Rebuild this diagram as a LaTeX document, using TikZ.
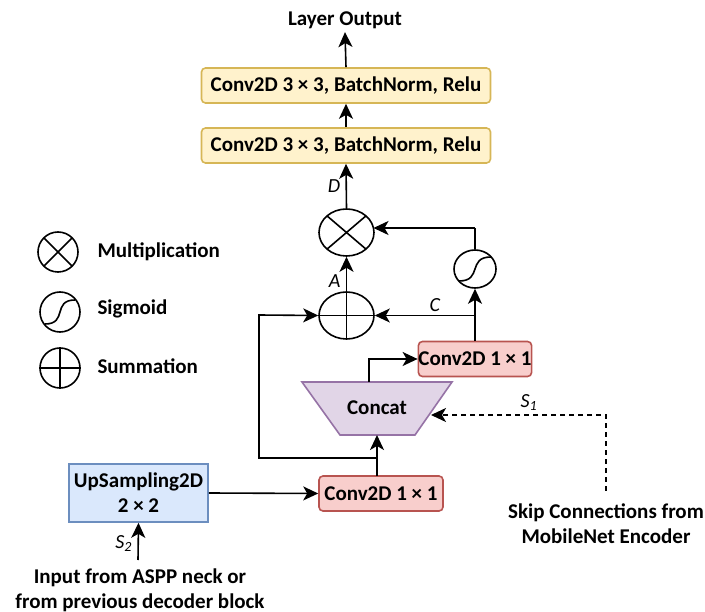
\documentclass[tikz,border=0pt]{standalone}
\usepackage{fontspec}
\setmainfont{Carlito}
\usetikzlibrary{arrows.meta,shapes.geometric,calc}
\definecolor{yfill}{HTML}{FFF2CC}\definecolor{ydraw}{HTML}{D6B656}
\definecolor{rfill}{HTML}{F8CECC}\definecolor{rdraw}{HTML}{B85450}
\definecolor{bfill}{HTML}{DAE8FC}\definecolor{bdraw}{HTML}{6C8EBF}
\definecolor{pfill}{HTML}{E1D5E7}\definecolor{pdraw}{HTML}{9673A6}
\begin{document}
\begin{tikzpicture}[x=1pt,y=-1pt,
  every node/.style={font=\fontsize{21}{25}\selectfont\bfseries},
  lw/.style={line width=1.6pt},
  arr/.style={lw,arrows={-Stealth[length=15pt,width=14pt,inset=4pt]}},
  ybox/.style={draw=ydraw,fill=yfill,lw,rounded corners=4pt,minimum width=289pt,minimum height=35pt,inner sep=0pt},
  rbox/.style={draw=rdraw,fill=rfill,lw,rounded corners=4pt,minimum height=35pt,inner sep=0pt},
  op/.style={draw,lw,ellipse,inner sep=0pt},
  lab/.style={font=\fontsize{20}{24}\selectfont\itshape}
]
\useasboundingbox (0,0) rectangle (705,612);
% main column
\node (out) at (345,20) {Layer Output};
\node[ybox] (b1) at (346,85.5) {Conv2D 3 × 3, BatchNorm, Relu};
\node[ybox] (b2) at (346,145.5) {Conv2D 3 × 3, BatchNorm, Relu};
\node[op,minimum width=55pt,minimum height=47pt] (mul) at (346.5,232.5) {};
\draw[lw] ([shift={(-19.45,-16.6)}]mul.center) -- ([shift={(19.45,16.6)}]mul.center);
\draw[lw] ([shift={(-19.45,16.6)}]mul.center) -- ([shift={(19.45,-16.6)}]mul.center);
\node[op,minimum width=55pt,minimum height=47pt] (sum) at (346.5,315.5) {};
\draw[lw] (sum.north) -- (sum.south) (sum.west) -- (sum.east);
\node[op,minimum width=42pt,minimum height=38pt] (sig) at (475,269) {};
\draw[lw] ([shift={(-16,12)}]sig.center) .. controls ([shift={(8,12)}]sig.center) and ([shift={(-8,-12)}]sig.center) .. ([shift={(16,-12)}]sig.center);
\node[rbox,minimum width=111pt] (c1u) at (475,359) {Conv2D 1 × 1};
% concat
\coordinate (ctl) at (302,382);
\coordinate (ctr) at (452,382);
\coordinate (cbr) at (415,435);
\coordinate (cbl) at (340,435);
\draw[draw=pdraw,fill=pfill,lw] (ctl) -- (ctr) -- (cbr) -- (cbl) -- cycle;
\node (cat) at (377,408) {Concat};
\coordinate (cattop) at (369,382);
\coordinate (catbot) at (377,435);
\coordinate (catr) at (431,415);
\node[rbox,minimum width=124pt] (c1l) at (381,493.5) {Conv2D 1 × 1};
\node[draw=bdraw,fill=bfill,lw,minimum width=139pt,minimum height=58pt,inner sep=0pt,align=center] (up) at (138.5,493) {UpSampling2D\\2 × 2};
\node[align=center] (inp) at (140,590) {Input from ASPP neck or\\from previous decoder block};
\node[align=center] (skip) at (606,524) {Skip Connections from\\MobileNet Encoder};
\coordinate (inpt) at (138,560);
\coordinate (skt) at (606,491);
\coordinate (c1lt) at (377,476);
\coordinate (br) at (377,458);
\coordinate (sigtop) at (475,228);
\coordinate (mulr) at (373.5,228);
% connectors
\draw[arr] (b1.north) -- (out.south);
\draw[arr] (b2.north) -- (b1.south);
\draw[arr] (mul.north) -- node[lab,left,pos=0.5,xshift=-2pt] {D} (b2.south);
\draw[arr] (sum.north) -- node[lab,left,pos=0.3,xshift=-2pt] {A} (mul.south);
\draw[lw] (sig.north) -- (sigtop);
\draw[arr] (sigtop) -- (mulr);
\draw[arr] (c1u.north) -- (sig.south);
\draw[arr] (c1u.north |- sum.east) -- node[lab,above,pos=0.4] {C} (sum.east);
\draw[arr] (cattop) |- (c1u.west);
\draw[arr] (c1lt) -- (catbot);
\draw[arr] (br) -| (259,315) -- (sum.west);
\draw[arr] (up.east) -- (c1l.west);
\draw[arr] (inpt) -- node[lab,left,pos=0.45,xshift=-2pt] {S\textsubscript{2}} (up.south);
\draw[arr,dashed,dash pattern=on 5pt off 4pt] (skt) |- node[lab,above,pos=0.72] {S\textsubscript{1}} (catr);
% legend
\node[op,minimum width=40pt,minimum height=40pt] (lmul) at (58,252) {};
\draw[lw] ([shift={(-14.1,-14.1)}]lmul.center) -- ([shift={(14.1,14.1)}]lmul.center);
\draw[lw] ([shift={(-14.1,14.1)}]lmul.center) -- ([shift={(14.1,-14.1)}]lmul.center);
\node[anchor=west] (tmul) at (94,252) {Multiplication};
\node[op,minimum width=40pt,minimum height=40pt] (lsig) at (60,312) {};
\draw[lw] ([shift={(-15,12)}]lsig.center) .. controls ([shift={(8,12)}]lsig.center) and ([shift={(-8,-12)}]lsig.center) .. ([shift={(15,-12)}]lsig.center);
\node[anchor=west] (tsig) at (94,309) {Sigmoid};
\node[anchor=west] (tsum) at (94,366) {Summation};
\node[op,minimum width=40pt,minimum height=40pt] (lsum) at (60,368) {};
\draw[lw] (lsum.north) -- (lsum.south) (lsum.west) -- (lsum.east);
\end{tikzpicture}
\end{document}
